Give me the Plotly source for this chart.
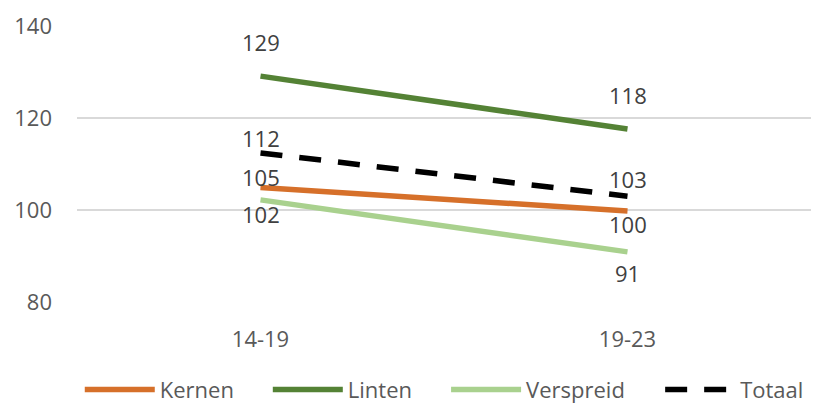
import plotly.graph_objects as go

# Periods on the category axis
periods = ["14-19", "19-23"]

# Series values per period
kernen = [104.9, 99.8]
linten = [129.1, 117.6]
verspreid = [102.2, 90.9]
totaal = [112.4, 103.0]

# Vertical offsets (px) of the value labels, per series and period
kernen_shift = [10, -13]
linten_shift = [34, 34]
verspreid_shift = [-14, -21]
totaal_shift = [15, 17]

FONT = "Open Sans"
TICK_GREY = "#595959"
LABEL_GREY = "#404040"

series = [
    dict(name="Kernen", y=kernen, shift=kernen_shift, color="#D6702A", dash="solid", legend="legend", lx=0.098),
    dict(name="Linten", y=linten, shift=linten_shift, color="#548235", dash="solid", legend="legend2", lx=0.329),
    dict(name="Verspreid", y=verspreid, shift=verspreid_shift, color="#A9D18E", dash="solid", legend="legend3", lx=0.548),
    dict(name="Totaal", y=totaal, shift=totaal_shift, color="#000000", dash="22px,17px", legend="legend4", lx=0.811),
]

fig = go.Figure()
annotations = []
layout_legends = {}
for s in series:
    fig.add_trace(go.Scatter(
        x=periods, y=s["y"], mode="lines", name=s["name"],
        line=dict(color=s["color"], width=5.5, dash=s["dash"]),
        legend=s["legend"], hoverinfo="skip",
    ))
    for xv, yv, sh in zip(periods, s["y"], s["shift"]):
        annotations.append(dict(
            x=xv, y=yv, xref="x", yref="y", text=f"{round(yv)}",
            showarrow=False, yshift=sh, xanchor="center", yanchor="middle",
            font=dict(family=FONT, size=22, color=LABEL_GREY),
        ))
    layout_legends[s["legend"]] = dict(
        x=s["lx"], y=0.033, xref="container", yref="container",
        xanchor="left", yanchor="middle", orientation="h",
        itemwidth=70, bgcolor="rgba(0,0,0,0)", borderwidth=0,
        font=dict(family=FONT, size=22, color=TICK_GREY),
    )

fig.update_layout(
    width=814, height=403,
    margin=dict(l=77, r=3, t=26, b=101),
    paper_bgcolor="white", plot_bgcolor="white",
    showlegend=True,
    annotations=annotations,
    font=dict(family=FONT, size=22, color=TICK_GREY),
    **layout_legends,
)
fig.update_xaxes(
    type="category", range=[-0.5, 1.5], showgrid=False, zeroline=False,
    showline=False, ticks="", ticklabelstandoff=22,
    tickfont=dict(family=FONT, size=22, color=TICK_GREY),
)
fig.update_yaxes(
    range=[80, 140], dtick=20, showgrid=True, gridcolor="#D9D9D9", gridwidth=1.5,
    zeroline=False, showline=False, ticks="", ticklabelstandoff=24,
    tickfont=dict(family=FONT, size=22, color=TICK_GREY),
)

fig.write_html("out.html")
